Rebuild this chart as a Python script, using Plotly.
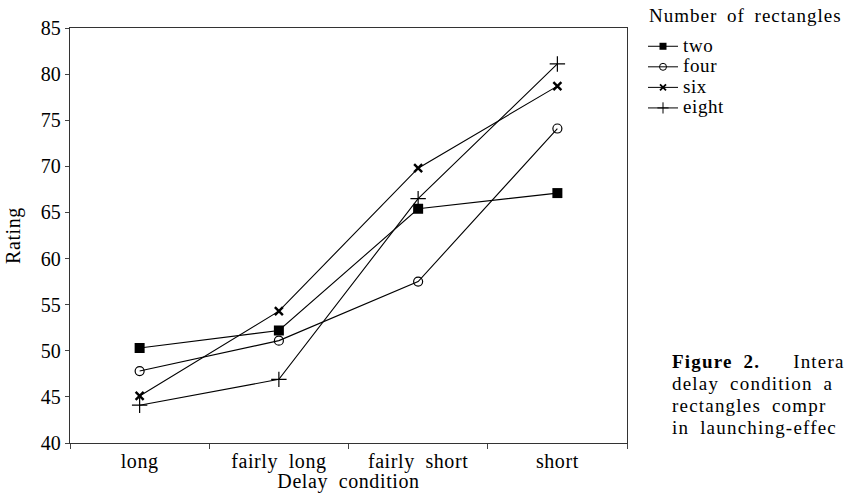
import plotly.graph_objects as go

categories = ["long", "fairly long", "fairly short", "short"]
two = [50.3, 52.2, 65.4, 67.1]
four = [47.8, 51.1, 57.5, 74.1]
six = [45.1, 54.3, 69.8, 78.7]
eight = [44.1, 46.9, 66.5, 81.1]
series_names = ["two", "four", "six", "eight"]
y_ticks = [40, 45, 50, 55, 60, 65, 70, 75, 80, 85]
legend_title = "Number of rectangles"
x_title = "Delay condition"
y_title = "Rating"
caption = [
    "<b>Figure 2.</b>   Intera",
    "delay condition a",
    "rectangles compr",
    "in launching-effec",
]

FONT = "Liberation Serif"
W, H = 846, 493
L, R, T, B = 70, 219, 28, 50


def sp(t, size=None, ls=0.6, ws=5):
    st = f"letter-spacing:{ls}px;word-spacing:{ws}px"
    if size:
        st += f";font-size:{size}px"
    return f'<span style="{st}">{t}</span>'


fig = go.Figure()
data_markers = [
    dict(symbol="square", size=10, color="black", line=dict(width=0)),
    dict(symbol="circle-open", size=9, color="black", line=dict(width=1.2)),
    dict(symbol="x-thin-open", size=8, color="black", line=dict(width=2.4)),
    dict(symbol="cross-thin-open", size=11, color="black", line=dict(width=1.2)),
]
legend_markers = [
    dict(symbol="square", size=7, color="black", line=dict(width=0)),
    dict(symbol="circle-open", size=7, color="black", line=dict(width=1)),
    dict(symbol="x-thin-open", size=6, color="black", line=dict(width=1.8)),
    dict(symbol="cross-thin-open", size=8, color="black", line=dict(width=1)),
]
for name, vals, st in zip(series_names, [two, four, six, eight], data_markers):
    fig.add_trace(go.Scatter(
        x=categories, y=vals, name=name, mode="lines+markers",
        line=dict(color="black", width=1.1), marker=st, showlegend=False,
    ))
for name, st in zip(series_names, legend_markers):
    fig.add_trace(go.Scatter(
        x=[None], y=[None], name=sp(name, 19), mode="lines+markers",
        line=dict(color="black", width=1), marker=st, showlegend=True,
    ))

fig.update_layout(
    template="none",
    width=W, height=H,
    margin=dict(l=L, r=R, t=T, b=B, pad=0),
    paper_bgcolor="white", plot_bgcolor="white",
    font=dict(family=FONT, size=20, color="black"),
    showlegend=True,
    legend=dict(
        xref="container", yref="container",
        x=643 / W, xanchor="left", y=1 - 31 / H, yanchor="top",
        font=dict(size=13.5), tracegroupgap=0, itemwidth=30,
        bgcolor="rgba(0,0,0,0)", borderwidth=0,
    ),
    xaxis=dict(
        type="category", range=[-0.5, 3.5], tickson="boundaries",
        ticks="outside", ticklen=5, tickcolor="#444", tickwidth=1,
        showline=True, linecolor="#333", linewidth=1.3, mirror=True,
        showgrid=False, zeroline=False, automargin=False,
        tickmode="array", tickvals=categories,
        ticktext=[sp(c) for c in categories],
        tickfont=dict(size=20),
        title=dict(text=sp(x_title), standoff=0, font=dict(size=20)),
    ),
    yaxis=dict(
        range=[40, 85], tickmode="array", tickvals=y_ticks,
        ticks="outside", ticklen=4, tickcolor="#444", tickwidth=1,
        showline=True, linecolor="#333", linewidth=1.3, mirror=True,
        showgrid=False, zeroline=False, automargin=False,
        tickfont=dict(size=20),
        title=dict(text=sp(y_title), standoff=14, font=dict(size=20)),
    ),
)

pw, ph = W - L - R, H - T - B

# legend heading
fig.add_annotation(
    xref="paper", yref="paper",
    x=(647 - L) / pw, xanchor="left",
    y=(H - B - 16) / ph, yanchor="middle",
    text=sp(legend_title, ls=1.0, ws=4), showarrow=False,
    font=dict(size=19), align="left",
)

for i, line in enumerate(caption):
    ypx = 361 + 22.2 * i
    fig.add_annotation(
        xref="paper", yref="paper",
        x=(670 - L) / pw, xanchor="left",
        y=(H - B - ypx) / ph, yanchor="middle",
        text=sp(line, ls=1.2, ws=5), showarrow=False,
        font=dict(size=19), align="left",
    )

fig.write_html(
    "out.html",
    config={"displayModeBar": False},
    post_script="document.body.style.margin='0';document.body.style.padding='0';"
                "document.body.style.overflow='hidden';",
)
